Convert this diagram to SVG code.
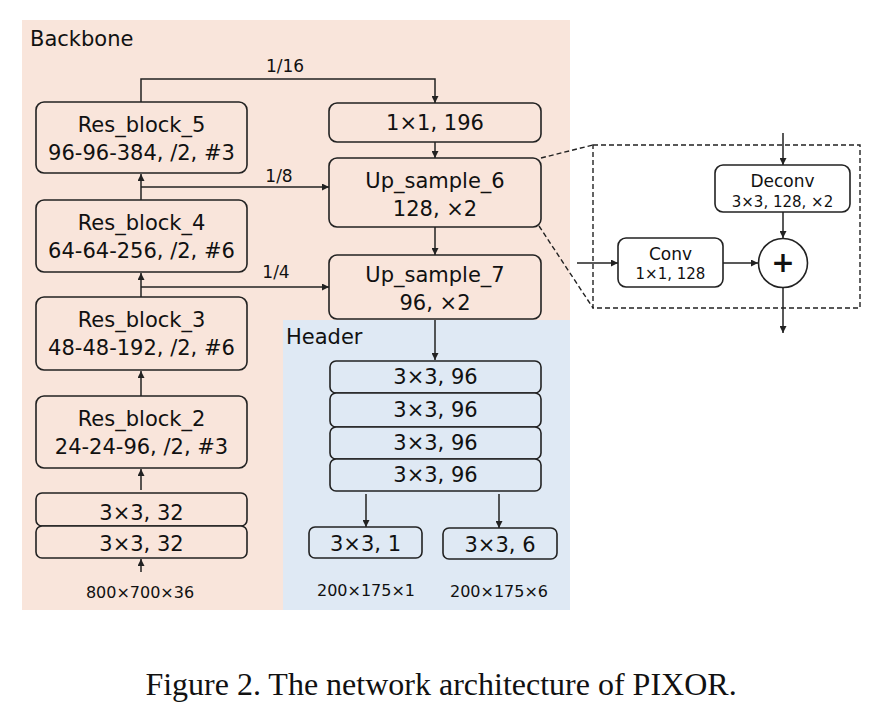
<svg xmlns="http://www.w3.org/2000/svg" width="880" height="708" viewBox="0 0 880 708">
<defs>
<marker id="ah" viewBox="0 0 10 10" refX="10" refY="5" markerWidth="7" markerHeight="7" markerUnits="userSpaceOnUse" orient="auto">
<path d="M0,0 L10,5 L0,10 z" fill="#222"/>
</marker>
<style>
.t{font-family:"DejaVu Sans",Verdana,sans-serif;fill:#111;text-anchor:middle}
.b{stroke:#222;stroke-width:1.6;fill:none}
.pb{stroke:#222;stroke-width:1.6;fill:#f9e5db}
.hb{stroke:#222;stroke-width:1.6;fill:#dfe9f4}
.wb{stroke:#222;stroke-width:1.6;fill:#fff}
.c{stroke:#222;stroke-width:1.5;fill:none}
.ca{stroke:#222;stroke-width:1.5;fill:none;marker-end:url(#ah)}
.d{stroke:#222;stroke-width:1.4;fill:none;stroke-dasharray:5,3}
.f21{font-size:21px}
.f17{font-size:17px}
.f16{font-size:16px}
.f15{font-size:15px}
</style>
</defs>
<rect width="880" height="708" fill="#fff"/>
<rect id="backbone-bg" x="22" y="20" width="548" height="590" fill="#f9e5db"/>
<rect id="header-bg" x="283" y="320" width="287" height="290" fill="#dfe9f4"/>
<text class="t f21" x="30" y="46" style="text-anchor:start">Backbone</text>
<text class="t f21" x="286" y="344" style="text-anchor:start">Header</text>

<g id="connectors">
<path class="ca" d="M141,102 L141,79 L435,79 L435,103"/>
<path class="ca" d="M141,187 L329,187"/>
<path class="ca" d="M141,287 L329,287"/>
<path class="ca" d="M141,200 L141,174"/>
<path class="ca" d="M141,297 L141,273"/>
<path class="ca" d="M141,396 L141,371"/>
<path class="ca" d="M141,490 L141,469"/>
<path class="ca" d="M141,572 L141,559"/>
<path class="ca" d="M435,142 L435,158"/>
<path class="ca" d="M435,227 L435,255"/>
<path class="ca" d="M435,320 L435,360"/>
<path class="ca" d="M366,494 L366,527"/>
<path class="ca" d="M499,494 L499,528"/>
<path class="d" d="M541,158 L593,145"/>
<path class="d" d="M539,226 L593,308"/>
<path class="ca" d="M783,133 L783,165"/>
<path class="ca" d="M783,212 L783,238"/>
<path class="ca" d="M577,263 L618,263"/>
<path class="ca" d="M723,263 L758,263"/>
<path class="ca" d="M783,288 L783,333"/>
<text class="t f17" x="285" y="72">1/16</text>
<text class="t f17" x="279" y="182">1/8</text>
<text class="t f17" x="276" y="278">1/4</text>
</g>

<g id="res_block_5">
<rect class="pb" x="36" y="102" width="211" height="71" rx="8"/>
<text class="t f21" x="141.5" y="132">Res_block_5</text>
<text class="t f21" x="141.5" y="160">96-96-384, /2, #3</text>
</g>
<g id="res_block_4">
<rect class="pb" x="36" y="200" width="211" height="72" rx="8"/>
<text class="t f21" x="141.5" y="230">Res_block_4</text>
<text class="t f21" x="141.5" y="258">64-64-256, /2, #6</text>
</g>
<g id="res_block_3">
<rect class="pb" x="36" y="297" width="211" height="73" rx="8"/>
<text class="t f21" x="141.5" y="327">Res_block_3</text>
<text class="t f21" x="141.5" y="355">48-48-192, /2, #6</text>
</g>
<g id="res_block_2">
<rect class="pb" x="36" y="396" width="211" height="72" rx="8"/>
<text class="t f21" x="141.5" y="426">Res_block_2</text>
<text class="t f21" x="141.5" y="454">24-24-96, /2, #3</text>
</g>
<g id="conv32_a">
<rect class="pb" x="36" y="493" width="211" height="33" rx="6"/>
<text class="t f21" x="141.5" y="520">3×3, 32</text>
</g>
<g id="conv32_b">
<rect class="pb" x="36" y="526" width="211" height="32" rx="6"/>
<text class="t f21" x="141.5" y="551">3×3, 32</text>
</g>
<text id="input" class="t f16" x="140" y="598">800×700×36</text>

<g id="conv_1x1_196">
<rect class="pb" x="329" y="103" width="212" height="39" rx="8"/>
<text class="t f21" x="435" y="130">1×1, 196</text>
</g>
<g id="up_sample_6">
<rect class="pb" x="329" y="158" width="212" height="69" rx="8"/>
<text class="t f21" x="435" y="188">Up_sample_6</text>
<text class="t f21" x="435" y="216">128, ×2</text>
</g>
<g id="up_sample_7">
<rect class="pb" x="329" y="255" width="212" height="64" rx="8"/>
<text class="t f21" x="435" y="282">Up_sample_7</text>
<text class="t f21" x="435" y="310">96, ×2</text>
</g>

<g id="head_conv_1">
<rect class="hb" x="330" y="361" width="211" height="32" rx="6"/>
<text class="t f21" x="435.5" y="384">3×3, 96</text>
</g>
<g id="head_conv_2">
<rect class="hb" x="330" y="393" width="211" height="34" rx="6"/>
<text class="t f21" x="435.5" y="417">3×3, 96</text>
</g>
<g id="head_conv_3">
<rect class="hb" x="330" y="427" width="211" height="32" rx="6"/>
<text class="t f21" x="435.5" y="450">3×3, 96</text>
</g>
<g id="head_conv_4">
<rect class="hb" x="330" y="459" width="211" height="32" rx="6"/>
<text class="t f21" x="435.5" y="482">3×3, 96</text>
</g>
<g id="cls_head">
<rect class="hb" x="309" y="527" width="113" height="31" rx="6"/>
<text class="t f21" x="365.5" y="551">3×3, 1</text>
</g>
<g id="reg_head">
<rect class="hb" x="443" y="528" width="114" height="31" rx="6"/>
<text class="t f21" x="500" y="552">3×3, 6</text>
</g>
<text id="out1" class="t f16" x="366" y="596">200×175×1</text>
<text id="out6" class="t f16" x="499" y="597">200×175×6</text>

<g id="inset">
<rect class="d" x="593" y="145" width="267" height="163"/>
</g>
<g id="deconv">
<rect class="wb" x="715" y="165" width="135" height="47" rx="8"/>
<text class="t f17" x="782.5" y="187">Deconv</text>
<text class="t f15" x="782.5" y="207">3×3, 128, ×2</text>
</g>
<g id="conv">
<rect class="wb" x="618" y="238" width="105" height="49" rx="8"/>
<text class="t f17" x="670.5" y="260">Conv</text>
<text class="t f15" x="670.5" y="279">1×1, 128</text>
</g>
<g id="add">
<circle class="wb" cx="783" cy="263" r="24.5"/>
<text class="t" x="783" y="272" style="font-size:28px;font-weight:bold">+</text>
</g>

<text id="caption" x="441" y="695" style="font-family:'Liberation Serif','Times New Roman',serif;font-size:32px;text-anchor:middle;fill:#111">Figure 2. The network architecture of PIXOR.</text>
</svg>
